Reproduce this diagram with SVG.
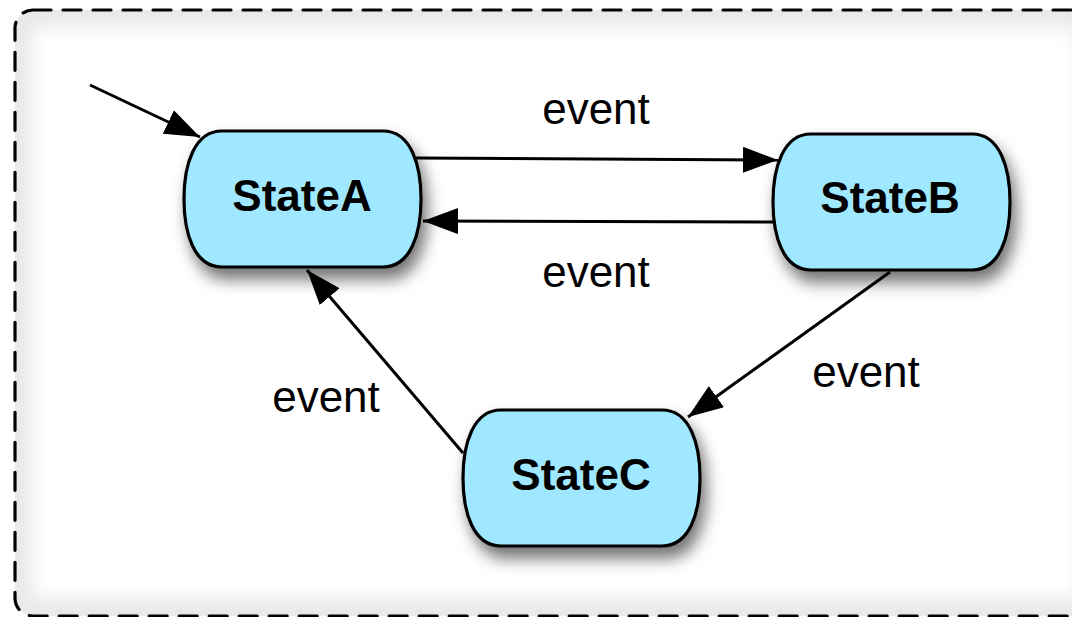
<svg xmlns="http://www.w3.org/2000/svg" xmlns:xlink="http://www.w3.org/1999/xlink" width="1072" height="617" viewBox="0 0 1072 617">
  <style>
    .frame { fill: none; stroke: #000; stroke-width: 3.2; stroke-dasharray: 18 12; stroke-linecap: round; }
    .state { fill: #9fe8ff; stroke: #000; stroke-width: 3.2; }
    .state-label { font-family: "Liberation Sans", Arial, sans-serif; font-weight: bold; font-size: 44px; fill: #000; text-anchor: middle; }
    .edge { fill: none; stroke: #000; stroke-width: 3; marker-end: url(#arrow); }
    .edge-label { font-family: "Liberation Sans", Arial, sans-serif; font-size: 44px; fill: #000; text-anchor: middle; }
  </style>
  <defs>
    <marker id="arrow" markerUnits="userSpaceOnUse" markerWidth="36" markerHeight="28" refX="35" refY="13" orient="auto">
      <path d="M0,0 L35,13 L0,26 Z" fill="#000"/>
    </marker>
    <filter id="shadow" x="-20%" y="-20%" width="150%" height="160%">
      <feDropShadow dx="5" dy="11" stdDeviation="8" flood-color="#000" flood-opacity="0.55"/>
    </filter>
    <filter id="soft" x="-10%" y="-10%" width="120%" height="120%">
      <feGaussianBlur stdDeviation="9"/>
    </filter>
    <clipPath id="frameClip">
      <rect x="15" y="10" width="1080" height="606" rx="18"/>
    </clipPath>
    <!-- rounded state outline, 237 x 136 -->
    <path id="stateShape" d="M38,0 H199 C227,0 237,34 237,68 C237,102 227,136 199,136 H38 C10,136 0,102 0,68 C0,34 10,0 38,0 Z"/>
  </defs>

  <rect width="1072" height="617" fill="#fff"/>

  <!-- container with a soft inner shade along its edges -->
  <g id="container">
    <g clip-path="url(#frameClip)">
      <rect x="15" y="10" width="1080" height="606" rx="18" fill="none" stroke="#000" stroke-opacity="0.09" stroke-width="34" filter="url(#soft)"/>
    </g>
    <rect class="frame" x="15" y="10" width="1080" height="606" rx="18"/>
  </g>

  <g id="connectors">
    <line class="edge" x1="90" y1="85" x2="200" y2="137"/>
    <line class="edge" x1="416" y1="158" x2="778" y2="160"/>
    <line class="edge" x1="774" y1="222" x2="423" y2="221"/>
    <line class="edge" x1="890" y1="272" x2="688" y2="417"/>
    <line class="edge" x1="463" y1="453" x2="307" y2="270"/>
    <text class="edge-label" x="596" y="124">event</text>
    <text class="edge-label" x="596" y="287">event</text>
    <text class="edge-label" x="866" y="387">event</text>
    <text class="edge-label" x="326" y="412">event</text>
  </g>

  <g id="stateA">
    <use xlink:href="#stateShape" class="state" x="184" y="131" filter="url(#shadow)"/>
    <text class="state-label" x="302" y="211">StateA</text>
  </g>

  <g id="stateB">
    <use xlink:href="#stateShape" class="state" x="773" y="134" filter="url(#shadow)"/>
    <text class="state-label" x="890" y="213">StateB</text>
  </g>

  <g id="stateC">
    <use xlink:href="#stateShape" class="state" x="463" y="410" filter="url(#shadow)"/>
    <text class="state-label" x="581" y="490">StateC</text>
  </g>
</svg>
